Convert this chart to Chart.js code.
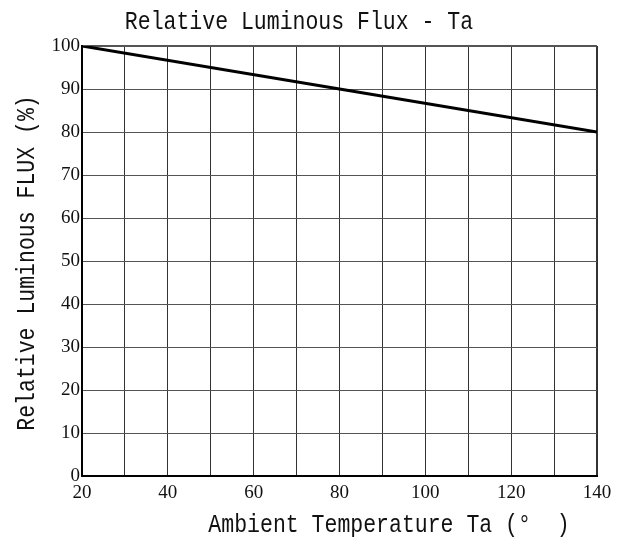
<!DOCTYPE html>
<html>
<head>
<meta charset="utf-8">
<script src="https://cdn.jsdelivr.net/npm/chart.js@4"></script>
<style>
  html, body { margin: 0; padding: 0; background: #fff; }
</style>
</head>
<body>
<canvas id="chart-flux" width="625" height="545"></canvas>
<script>
// data
const temps = [20, 80, 140];
const fluxValues = [100, 90, 80];
const xTicks = [20, 40, 60, 80, 100, 120, 140];
const yTicks = [0, 10, 20, 30, 40, 50, 60, 70, 80, 90, 100];

const chartTitle = 'Relative Luminous Flux - Ta';
const xTitle = 'Ambient Temperature Ta (°  )';
const yTitle = 'Relative Luminous FLUX (%)';

const monoFont = 'Liberation Mono';
const tickFont = 'Liberation Serif';

// narrow, tall text like the datasheet font
function drawNarrowText(ctx, text, x, y, rotate) {
    ctx.save();
    ctx.translate(x, y);
    if (rotate) ctx.rotate(-Math.PI / 2);
    ctx.scale(0.86, 1);
    ctx.fillText(text, 0, 0);
    ctx.restore();
}

// titles placed relative to plot area, like the original sheet
const titlesPlugin = {
    id: 'titles',
    afterDraw(chart) {
        const { ctx, chartArea } = chart;
        ctx.save();
        ctx.fillStyle = '#111';
        ctx.font = '25px "' + monoFont + '"';
        ctx.textBaseline = 'middle';
        ctx.textAlign = 'center';
        drawNarrowText(ctx, chartTitle, chartArea.left + 217, 22, false);
        drawNarrowText(ctx, xTitle, chartArea.left + 307, chartArea.bottom + 49, false);
        drawNarrowText(ctx, yTitle, 27, (chartArea.top + chartArea.bottom) / 2 + 2, true);
        ctx.restore();
    }
};

const ctx = document.getElementById('chart-flux');
new Chart(ctx, {
    type: 'line',
    data: {
        datasets: [{
            data: temps.map((t, i) => ({ x: t, y: fluxValues[i] })),
            borderColor: '#000',
            borderWidth: 3,
            pointRadius: 0,
            tension: 0,
            fill: false
        }]
    },
    options: {
        responsive: false,
        animation: false,
        layout: {
            padding: { top: 46, right: 28, left: 0, bottom: 0 }
        },
        plugins: {
            legend: { display: false },
            tooltip: { enabled: false }
        },
        scales: {
            x: {
                type: 'linear',
                min: 20,
                max: 140,
                afterFit(scale) { scale.height = 69; },
                afterBuildTicks(scale) {
                    scale.ticks = [];
                    for (let v = 20; v <= 140; v += 10) scale.ticks.push({ value: v });
                },
                grid: {
                    color: '#333',
                    lineWidth: (c) => (c.tick && c.tick.value === 140 ? 2 : 1),
                    drawTicks: false
                },
                border: { color: '#000', width: 2 },
                ticks: {
                    color: '#111',
                    padding: 6,
                    maxRotation: 0,
                    autoSkip: false,
                    font: { family: tickFont, size: 19 },
                    callback: (v) => (xTicks.includes(v) ? v : '')
                }
            },
            y: {
                min: 0,
                max: 100,
                afterFit(scale) { scale.width = 82; },
                afterBuildTicks(scale) {
                    scale.ticks = yTicks.map(v => ({ value: v }));
                },
                grid: {
                    color: '#555',
                    lineWidth: (c) => (c.tick && c.tick.value === 100 ? 2 : 1),
                    drawTicks: false
                },
                border: { color: '#000', width: 2 },
                ticks: {
                    color: '#111',
                    padding: 2,
                    autoSkip: false,
                    font: { family: tickFont, size: 19 }
                }
            }
        }
    },
    plugins: [titlesPlugin]
});
</script>
</body>
</html>
